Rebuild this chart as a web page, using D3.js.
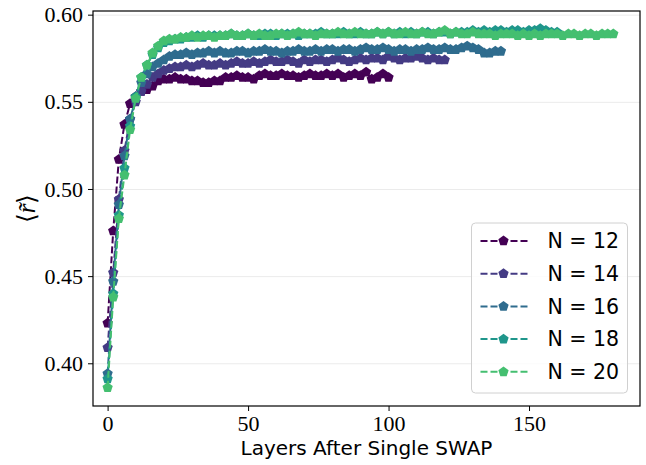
<!DOCTYPE html>
<meta charset="utf-8">
<style>
body { margin: 0; background: #fff; }
.line { fill: none; stroke-width: 2px; stroke-dasharray: 7,3; }
.tick text { font-family: "Liberation Serif", serif; font-size: 22px; fill: #000; }
.grid line { stroke: #ebebeb; stroke-width: 1px; }
.grid path { display: none; }
</style>
<svg width="646" height="465"></svg>

<script src="https://cdn.jsdelivr.net/npm/d3@7"></script>
<script>

var step = 2;
var labels = ["N = 12", "N = 14", "N = 16", "N = 18", "N = 20"];
var xTicks = [0, 50, 100, 150];
var yTicks = [0.40, 0.45, 0.50, 0.55, 0.60];

var n12 = [0.423, 0.476, 0.517, 0.537, 0.549, 0.553, 0.556, 0.557, 0.559, 0.562,
  0.563, 0.563, 0.564, 0.563, 0.563, 0.562, 0.562, 0.561, 0.561, 0.562,
  0.562, 0.564, 0.564, 0.565, 0.564, 0.564, 0.563, 0.565, 0.566, 0.565,
  0.565, 0.566, 0.565, 0.565, 0.564, 0.565, 0.566, 0.565, 0.565, 0.566,
  0.565, 0.566, 0.564, 0.565, 0.566, 0.565, 0.567, 0.563, 0.564, 0.566,
  0.564];
var n14 = [0.409, 0.452, 0.494, 0.522, 0.540, 0.550, 0.556, 0.560, 0.564, 0.566,
  0.568, 0.569, 0.570, 0.570, 0.571, 0.570, 0.571, 0.572, 0.571, 0.571,
  0.572, 0.571, 0.572, 0.573, 0.572, 0.572, 0.573, 0.572, 0.573, 0.574,
  0.573, 0.573, 0.574, 0.573, 0.572, 0.574, 0.573, 0.574, 0.574, 0.573,
  0.574, 0.575, 0.574, 0.573, 0.574, 0.575, 0.574, 0.575, 0.575, 0.574,
  0.576, 0.575, 0.574, 0.575, 0.575, 0.576, 0.575, 0.574, 0.575, 0.574,
  0.574];
var n16 = [0.394, 0.447, 0.491, 0.519, 0.540, 0.552, 0.561, 0.566, 0.570, 0.572,
  0.574, 0.576, 0.577, 0.577, 0.578, 0.577, 0.578, 0.578, 0.579, 0.578,
  0.579, 0.578, 0.578, 0.579, 0.579, 0.578, 0.579, 0.579, 0.580, 0.579,
  0.579, 0.578, 0.579, 0.579, 0.580, 0.579, 0.579, 0.580, 0.579, 0.580,
  0.580, 0.579, 0.580, 0.580, 0.579, 0.580, 0.581, 0.580, 0.580, 0.581,
  0.580, 0.579, 0.580, 0.580, 0.579, 0.580, 0.580, 0.581, 0.580, 0.580,
  0.581, 0.580, 0.580, 0.581, 0.582, 0.581, 0.580, 0.578, 0.578, 0.579,
  0.579];
var n18 = [0.391, 0.440, 0.485, 0.512, 0.536, 0.553, 0.564, 0.571, 0.577, 0.581,
  0.584, 0.585, 0.586, 0.586, 0.587, 0.587, 0.588, 0.587, 0.588, 0.588,
  0.588, 0.588, 0.589, 0.588, 0.588, 0.589, 0.588, 0.588, 0.589, 0.589,
  0.588, 0.589, 0.589, 0.589, 0.588, 0.589, 0.589, 0.589, 0.590, 0.589,
  0.589, 0.589, 0.590, 0.589, 0.589, 0.590, 0.589, 0.589, 0.590, 0.589,
  0.590, 0.589, 0.590, 0.589, 0.590, 0.589, 0.590, 0.590, 0.589, 0.590,
  0.590, 0.589, 0.590, 0.590, 0.590, 0.591, 0.590, 0.591, 0.590, 0.591,
  0.591, 0.590, 0.591, 0.591, 0.590, 0.591, 0.591, 0.592, 0.591, 0.590,
  0.590];
var n20 = [0.386, 0.438, 0.483, 0.508, 0.534, 0.552, 0.564, 0.571, 0.578, 0.582,
  0.585, 0.586, 0.586, 0.587, 0.587, 0.588, 0.587, 0.588, 0.588, 0.587,
  0.588, 0.588, 0.589, 0.588, 0.588, 0.589, 0.588, 0.589, 0.588, 0.588,
  0.589, 0.589, 0.588, 0.589, 0.590, 0.589, 0.589, 0.588, 0.589, 0.589,
  0.589, 0.590, 0.589, 0.589, 0.590, 0.589, 0.589, 0.589, 0.590, 0.589,
  0.590, 0.589, 0.589, 0.590, 0.589, 0.589, 0.590, 0.589, 0.589, 0.590,
  0.591, 0.589, 0.590, 0.589, 0.589, 0.590, 0.589, 0.589, 0.589, 0.588,
  0.589, 0.589, 0.589, 0.588, 0.589, 0.588, 0.589, 0.588, 0.589, 0.589,
  0.589, 0.588, 0.589, 0.589, 0.588, 0.589, 0.589, 0.588, 0.589, 0.589,
  0.589];

var series = [n12, n14, n16, n18, n20].map(function(vals, i) {
  return {
    id: labels[i],
    values: vals.map(function(v, j) { return {layer: j * step, r: v}; })
  };
});

var svg = d3.select("svg"),
    margin = {top: 11, right: 6, bottom: 59, left: 93},
    width = svg.attr("width") - margin.left - margin.right,
    height = svg.attr("height") - margin.top - margin.bottom,
    g = svg.append("g").attr("transform", "translate(" + margin.left + "," + margin.top + ")");

var x = d3.scaleLinear().domain([-5.2, 189.5]).range([0, width]),
    y = d3.scaleLinear().domain([0.3755, 0.6021]).range([height, 0]),
    z = d3.scaleOrdinal().domain(labels)
      .range([0, 0.175, 0.35, 0.525, 0.7].map(d3.interpolateViridis));

// pentagon marker, point up
function pentagon(r) {
  var pts = d3.range(5).map(function(k) {
    var a = -Math.PI / 2 + k * 2 * Math.PI / 5;
    return [r * Math.cos(a), r * Math.sin(a)];
  });
  return "M" + pts.join("L") + "Z";
}

g.append("g")
    .attr("class", "grid")
    .call(d3.axisLeft(y).tickValues(yTicks).tickSize(-width).tickFormat(""));

var line = d3.line()
    .x(function(d) { return x(d.layer); })
    .y(function(d) { return y(d.r); });

var s = g.append("g").selectAll(".series")
  .data(series)
  .enter().append("g")
    .attr("class", "series");
s.append("path")
    .attr("class", "line")
    .attr("d", function(d) { return line(d.values); })
    .style("stroke", function(d) { return z(d.id); });
s.each(function(d) {
  d3.select(this).selectAll("path.pt")
    .data(d.values)
    .enter().append("path")
      .attr("class", "pt")
      .attr("d", pentagon(5.4))
      .attr("transform", function(p) { return "translate(" + x(p.layer) + "," + y(p.r) + ")"; })
      .attr("fill", z(d.id));
});

g.append("g")
    .attr("transform", "translate(0," + height + ")")
    .call(d3.axisBottom(x).tickValues(xTicks).tickSize(5).tickPadding(4).tickFormat(d3.format("d")))
    .call(function(a) { a.select(".domain").remove(); });
g.append("g")
    .call(d3.axisLeft(y).tickValues(yTicks).tickSize(5).tickPadding(5).tickFormat(d3.format(".2f")))
    .call(function(a) { a.select(".domain").remove(); });

g.append("rect")
    .attr("width", width)
    .attr("height", height)
    .attr("fill", "none")
    .attr("stroke", "#000")
    .attr("stroke-width", 1.2);

g.append("text")
    .attr("x", width / 2)
    .attr("y", height + 49)
    .attr("text-anchor", "middle")
    .style("font", "20px 'DejaVu Sans', sans-serif")
    .text("Layers After Single SWAP");

var yl = svg.append("text")
    .attr("transform", "translate(35," + (margin.top + height / 2) + ") rotate(-90)")
    .attr("text-anchor", "middle")
    .style("font", "25px 'Liberation Serif', serif");
yl.append("tspan").text("\u27E8");
yl.append("tspan").style("font-style", "italic").text("r\u0303");
yl.append("tspan").text("\u27E9");

// legend
var legend = g.append("g").attr("transform", "translate(" + (471.5 - margin.left) + "," + (223 - margin.top) + ")");
legend.append("rect")
    .attr("width", 156)
    .attr("height", 170)
    .attr("rx", 4)
    .attr("fill", "#fff")
    .attr("fill-opacity", 0.8)
    .attr("stroke", "#d0d0d0");
var item = legend.selectAll(".item")
  .data(labels)
  .enter().append("g")
    .attr("transform", function(d, i) { return "translate(0," + (18 + i * 32.7) + ")"; });
item.append("line")
    .attr("x1", 9).attr("x2", 57)
    .attr("stroke", function(d) { return z(d); })
    .attr("stroke-width", 2)
    .attr("stroke-dasharray", "7,3");
item.append("path")
    .attr("d", pentagon(5.4))
    .attr("transform", "translate(32,0)")
    .attr("fill", function(d) { return z(d); });
item.append("text")
    .attr("x", 76)
    .attr("dy", "0.36em")
    .style("font", "20.5px 'DejaVu Sans', sans-serif")
    .text(function(d) { return d; });

</script>
